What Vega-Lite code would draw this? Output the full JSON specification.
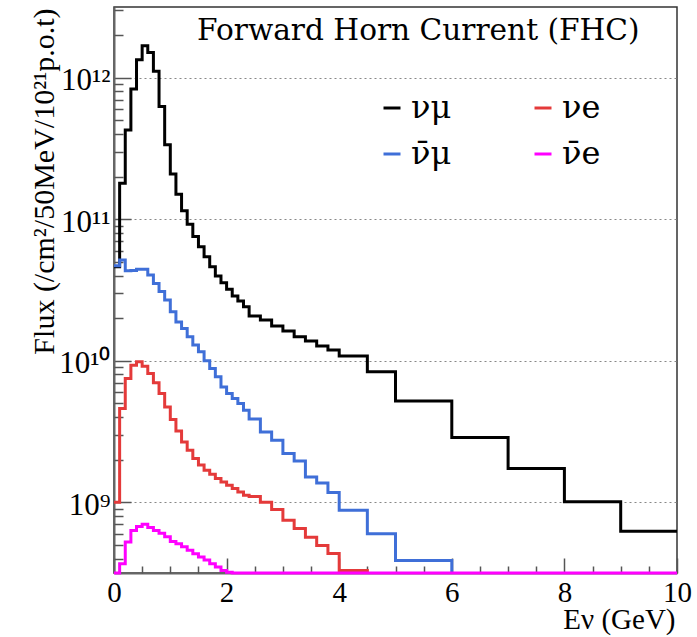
{
  "$schema": "https://vega.github.io/schema/vega-lite/v6.json",
  "width": 563,
  "height": 566,
  "autosize": {"type": "none"},
  "padding": {"left": 114, "top": 7, "right": 20, "bottom": 64},
  "background": "white",
  "title": {"text": "Forward Horn Current (FHC)", "orient": "top", "anchor": "start", "frame": "group", "offset": 0, "dx": 83, "dy": 63, "baseline": "alphabetic", "font": "DejaVu Serif", "fontSize": 29.6, "fontWeight": "normal", "color": "black"},
  "config": {"view": {"stroke": "#333", "strokeWidth": 1.5}},
  "data": {"values": [
    {"series": "νμ", "E": 0.0, "flux": 4.62e10},
    {"series": "νμ", "E": 0.1, "flux": 1.80e11},
    {"series": "νμ", "E": 0.2, "flux": 4.28e11},
    {"series": "νμ", "E": 0.3, "flux": 8.32e11},
    {"series": "νμ", "E": 0.4, "flux": 1.34e12},
    {"series": "νμ", "E": 0.5, "flux": 1.68e12},
    {"series": "νμ", "E": 0.6, "flux": 1.51e12},
    {"series": "νμ", "E": 0.7, "flux": 1.11e12},
    {"series": "νμ", "E": 0.8, "flux": 6.27e11},
    {"series": "νμ", "E": 0.9, "flux": 3.36e11},
    {"series": "νμ", "E": 1.0, "flux": 2.09e11},
    {"series": "νμ", "E": 1.1, "flux": 1.50e11},
    {"series": "νμ", "E": 1.2, "flux": 1.15e11},
    {"series": "νμ", "E": 1.3, "flux": 9.23e10},
    {"series": "νμ", "E": 1.4, "flux": 7.54e10},
    {"series": "νμ", "E": 1.5, "flux": 6.4e10},
    {"series": "νμ", "E": 1.6, "flux": 5.43e10},
    {"series": "νμ", "E": 1.7, "flux": 4.62e10},
    {"series": "νμ", "E": 1.8, "flux": 3.97e10},
    {"series": "νμ", "E": 1.9, "flux": 3.56e10},
    {"series": "νμ", "E": 2.0, "flux": 3.2e10},
    {"series": "νμ", "E": 2.1, "flux": 2.87e10},
    {"series": "νμ", "E": 2.2, "flux": 2.64e10},
    {"series": "νμ", "E": 2.3, "flux": 2.41e10},
    {"series": "νμ", "E": 2.4, "flux": 2.07e10},
    {"series": "νμ", "E": 2.6, "flux": 1.94e10},
    {"series": "νμ", "E": 2.8, "flux": 1.76e10},
    {"series": "νμ", "E": 3.0, "flux": 1.62e10},
    {"series": "νμ", "E": 3.2, "flux": 1.48e10},
    {"series": "νμ", "E": 3.4, "flux": 1.38e10},
    {"series": "νμ", "E": 3.6, "flux": 1.27e10},
    {"series": "νμ", "E": 3.8, "flux": 1.19e10},
    {"series": "νμ", "E": 4.0, "flux": 1.08e10},
    {"series": "νμ", "E": 4.5, "flux": 8.35e9},
    {"series": "νμ", "E": 5.0, "flux": 5.2e9},
    {"series": "νμ", "E": 6.0, "flux": 2.87e9},
    {"series": "νμ", "E": 7.0, "flux": 1.73e9},
    {"series": "νμ", "E": 8.0, "flux": 1.01e9},
    {"series": "νμ", "E": 9.0, "flux": 6.25e8},
    {"series": "νμ", "E": 10.0, "flux": 6.25e8},
    {"series": "ν̄μ", "E": 0.0, "flux": 4.7e10},
    {"series": "ν̄μ", "E": 0.1, "flux": 5.15e10},
    {"series": "ν̄μ", "E": 0.2, "flux": 4.33e10},
    {"series": "ν̄μ", "E": 0.3, "flux": 4.35e10},
    {"series": "ν̄μ", "E": 0.4, "flux": 4.43e10},
    {"series": "ν̄μ", "E": 0.5, "flux": 4.43e10},
    {"series": "ν̄μ", "E": 0.6, "flux": 4.04e10},
    {"series": "ν̄μ", "E": 0.7, "flux": 3.52e10},
    {"series": "ν̄μ", "E": 0.8, "flux": 3.08e10},
    {"series": "ν̄μ", "E": 0.9, "flux": 2.69e10},
    {"series": "ν̄μ", "E": 1.0, "flux": 2.22e10},
    {"series": "ν̄μ", "E": 1.1, "flux": 1.88e10},
    {"series": "ν̄μ", "E": 1.2, "flux": 1.69e10},
    {"series": "ν̄μ", "E": 1.3, "flux": 1.48e10},
    {"series": "ν̄μ", "E": 1.4, "flux": 1.29e10},
    {"series": "ν̄μ", "E": 1.5, "flux": 1.16e10},
    {"series": "ν̄μ", "E": 1.6, "flux": 1.0e10},
    {"series": "ν̄μ", "E": 1.7, "flux": 8.83e9},
    {"series": "ν̄μ", "E": 1.8, "flux": 7.7e9},
    {"series": "ν̄μ", "E": 1.9, "flux": 6.53e9},
    {"series": "ν̄μ", "E": 2.0, "flux": 5.87e9},
    {"series": "ν̄μ", "E": 2.1, "flux": 5.41e9},
    {"series": "ν̄μ", "E": 2.2, "flux": 4.98e9},
    {"series": "ν̄μ", "E": 2.3, "flux": 4.47e9},
    {"series": "ν̄μ", "E": 2.4, "flux": 3.87e9},
    {"series": "ν̄μ", "E": 2.6, "flux": 3.14e9},
    {"series": "ν̄μ", "E": 2.8, "flux": 2.74e9},
    {"series": "ν̄μ", "E": 3.0, "flux": 2.21e9},
    {"series": "ν̄μ", "E": 3.2, "flux": 1.96e9},
    {"series": "ν̄μ", "E": 3.4, "flux": 1.51e9},
    {"series": "ν̄μ", "E": 3.6, "flux": 1.37e9},
    {"series": "ν̄μ", "E": 3.8, "flux": 1.17e9},
    {"series": "ν̄μ", "E": 4.0, "flux": 8.77e8},
    {"series": "ν̄μ", "E": 4.5, "flux": 6.0e8},
    {"series": "ν̄μ", "E": 5.0, "flux": 3.88e8},
    {"series": "ν̄μ", "E": 6.0, "flux": 0},
    {"series": "νe", "E": 0.0, "flux": 1.0e9},
    {"series": "νe", "E": 0.1, "flux": 4.59e9},
    {"series": "νe", "E": 0.2, "flux": 7.5e9},
    {"series": "νe", "E": 0.3, "flux": 9.31e9},
    {"series": "νe", "E": 0.4, "flux": 9.83e9},
    {"series": "νe", "E": 0.5, "flux": 9.16e9},
    {"series": "νe", "E": 0.6, "flux": 8.13e9},
    {"series": "νe", "E": 0.7, "flux": 6.98e9},
    {"series": "νe", "E": 0.8, "flux": 5.87e9},
    {"series": "νe", "E": 0.9, "flux": 4.72e9},
    {"series": "νe", "E": 1.0, "flux": 3.85e9},
    {"series": "νe", "E": 1.1, "flux": 3.19e9},
    {"series": "νe", "E": 1.2, "flux": 2.67e9},
    {"series": "νe", "E": 1.3, "flux": 2.33e9},
    {"series": "νe", "E": 1.4, "flux": 2.04e9},
    {"series": "νe", "E": 1.5, "flux": 1.83e9},
    {"series": "νe", "E": 1.6, "flux": 1.68e9},
    {"series": "νe", "E": 1.7, "flux": 1.58e9},
    {"series": "νe", "E": 1.8, "flux": 1.47e9},
    {"series": "νe", "E": 1.9, "flux": 1.39e9},
    {"series": "νe", "E": 2.0, "flux": 1.32e9},
    {"series": "νe", "E": 2.1, "flux": 1.25e9},
    {"series": "νe", "E": 2.2, "flux": 1.18e9},
    {"series": "νe", "E": 2.3, "flux": 1.12e9},
    {"series": "νe", "E": 2.4, "flux": 1.1e9},
    {"series": "νe", "E": 2.6, "flux": 1.0e9},
    {"series": "νe", "E": 2.8, "flux": 8.9e8},
    {"series": "νe", "E": 3.0, "flux": 7.45e8},
    {"series": "νe", "E": 3.2, "flux": 6.53e8},
    {"series": "νe", "E": 3.4, "flux": 5.65e8},
    {"series": "νe", "E": 3.6, "flux": 4.95e8},
    {"series": "νe", "E": 3.8, "flux": 4.34e8},
    {"series": "νe", "E": 4.0, "flux": 3.3e8},
    {"series": "νe", "E": 4.5, "flux": 0},
    {"series": "ν̄e", "E": 0.0, "flux": 3.0e8},
    {"series": "ν̄e", "E": 0.1, "flux": 3.68e8},
    {"series": "ν̄e", "E": 0.2, "flux": 5.23e8},
    {"series": "ν̄e", "E": 0.3, "flux": 6.32e8},
    {"series": "ν̄e", "E": 0.4, "flux": 6.75e8},
    {"series": "ν̄e", "E": 0.5, "flux": 6.98e8},
    {"series": "ν̄e", "E": 0.6, "flux": 6.64e8},
    {"series": "ν̄e", "E": 0.7, "flux": 6.32e8},
    {"series": "ν̄e", "E": 0.8, "flux": 6.05e8},
    {"series": "ν̄e", "E": 0.9, "flux": 5.71e8},
    {"series": "ν̄e", "E": 1.0, "flux": 5.29e8},
    {"series": "ν̄e", "E": 1.1, "flux": 5.1e8},
    {"series": "ν̄e", "E": 1.2, "flux": 4.85e8},
    {"series": "ν̄e", "E": 1.3, "flux": 4.57e8},
    {"series": "ν̄e", "E": 1.4, "flux": 4.33e8},
    {"series": "ν̄e", "E": 1.5, "flux": 4.1e8},
    {"series": "ν̄e", "E": 1.6, "flux": 3.9e8},
    {"series": "ν̄e", "E": 1.7, "flux": 3.68e8},
    {"series": "ν̄e", "E": 1.8, "flux": 3.48e8},
    {"series": "ν̄e", "E": 1.9, "flux": 3.3e8},
    {"series": "ν̄e", "E": 2.0, "flux": 3.2e8},
    {"series": "ν̄e", "E": 2.1, "flux": 0},
    {"series": "ν̄e", "E": 10.0, "flux": 0}
  ]},
  "layer": [
    {
      "mark": {"type": "line", "interpolate": "step-after", "strokeWidth": 3, "clip": false},
      "encoding": {
        "x": {"field": "E", "type": "quantitative",
          "scale": {"domain": [0, 10], "nice": false, "zero": false},
          "axis": {"values": [0, 2, 4, 6, 8, 10], "tickSize": -15, "tickColor": "#555", "tickWidth": 1.5,
            "domainColor": "#666", "domainWidth": 2, "grid": false,
            "labelFont": "Liberation Serif", "labelFontSize": 29, "labelColor": "black", "labelPadding": 20, "labelFlush": false, "labelOverlap": false,
            "title": "Eν (GeV)", "titleFont": "Liberation Serif", "titleFontSize": 29, "titleFontWeight": "normal", "titleColor": "black",
            "titleAnchor": "end", "titleAlign": "right", "titleBaseline": "alphabetic", "titleX": 561, "titleY": 55}},
        "y": {"field": "flux", "type": "quantitative",
          "scale": {"type": "log", "domain": [316227766, 3162277660000], "clamp": true, "nice": false},
          "axis": {"values": [1e9, 1e10, 1e11, 1e12], "tickSize": -17, "tickColor": "#555", "tickWidth": 1.5,
            "domainColor": "#666", "domainWidth": 2,
            "grid": true, "gridDash": [2, 3], "gridColor": "#888", "gridWidth": 1,
            "labelExpr": "datum.value >= 1e12 ? '10¹²' : datum.value >= 1e11 ? '10¹¹' : datum.value >= 1e10 ? '10¹⁰' : '10⁹'",
            "labelFont": "Liberation Serif", "labelFontSize": 31, "labelColor": "black", "labelPadding": 21, "labelOffset": 3, "labelOverlap": false,
            "title": "Flux (/cm²/50MeV/10²¹p.o.t)", "titleFont": "Liberation Serif", "titleFontSize": 30, "titleFontWeight": "normal", "titleColor": "black",
            "titleAngle": -90, "titleAlign": "right", "titleBaseline": "alphabetic", "titleX": -61, "titleY": 1}},
        "color": {"field": "series", "type": "nominal",
          "scale": {"domain": ["νμ", "ν̄μ", "νe", "ν̄e"], "range": ["#000000", "#3f6fd8", "#e43a3a", "#ff00ff"]},
          "legend": {"orient": "none", "legendX": 262, "legendY": 85, "columns": 2, "gridAlign": "all", "columnPadding": 75, "rowPadding": 14,
            "symbolType": "stroke", "symbolSize": 289, "symbolStrokeWidth": 3, "labelFont": "DejaVu Serif", "labelFontSize": 32, "labelOffset": 3,
            "labelColor": "black", "title": null, "padding": 0, "labelLimit": 0}}
      }
    },
    {
      "mark": {"type": "point", "opacity": 0},
      "encoding": {
        "x": {"field": "E", "type": "quantitative",
          "axis": {"orient": "bottom", "values": [0.5, 1, 1.5, 2.5, 3, 3.5, 4.5, 5, 5.5, 6.5, 7, 7.5, 8.5, 9, 9.5], "tickSize": -7, "tickColor": "#555", "tickWidth": 1.5,
            "labels": false, "domain": false, "grid": false, "title": null}},
        "y": {"field": "flux", "type": "quantitative",
          "axis": {"orient": "left", "values": [4e8, 5e8, 6e8, 7e8, 8e8, 9e8, 2e9, 3e9, 4e9, 5e9, 6e9, 7e9, 8e9, 9e9, 2e10, 3e10, 4e10, 5e10, 6e10, 7e10, 8e10, 9e10, 2e11, 3e11, 4e11, 5e11, 6e11, 7e11, 8e11, 9e11, 2e12, 3e12], "tickSize": -9, "tickColor": "#555", "tickWidth": 1.5,
            "labels": false, "domain": false, "grid": false, "title": null}}
      }
    }
  ],
  "resolve": {"axis": {"x": "independent", "y": "independent"}}
}
